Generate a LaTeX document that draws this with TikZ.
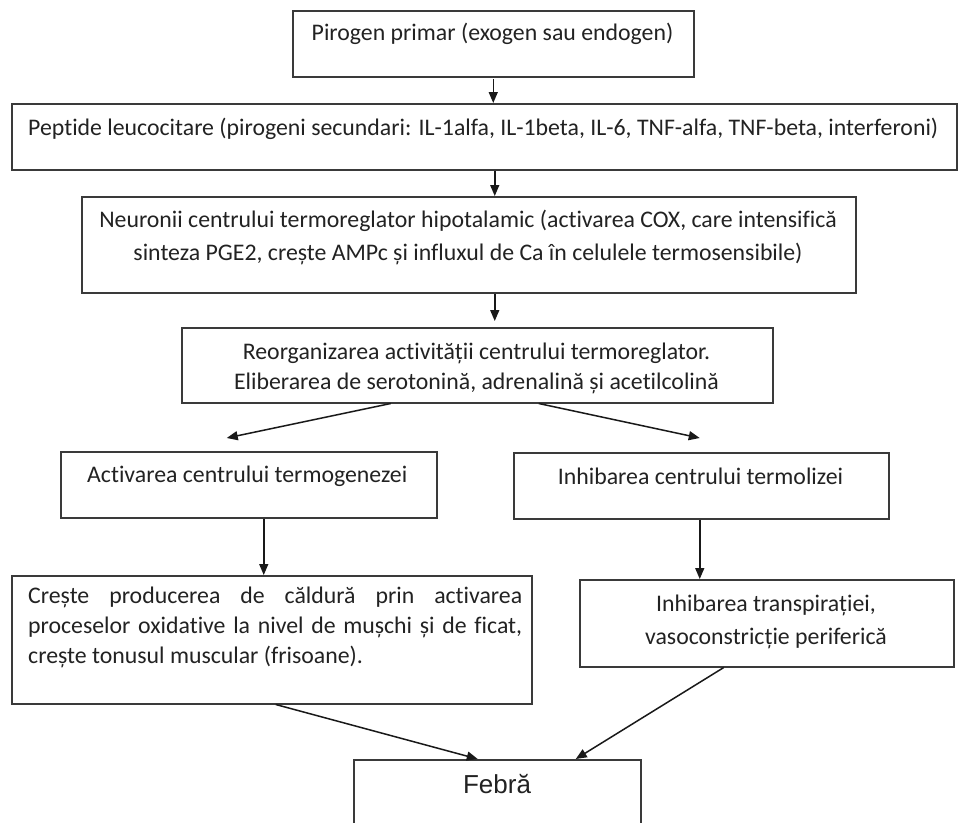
\documentclass[tikz,border=0pt]{standalone}
\usepackage{fontspec}
\setmainfont{Carlito}[RawFeature={-liga}]
\newfontfamily\arialfont{Liberation Sans}
\usetikzlibrary{arrows.meta,calc}
\definecolor{boxline}{HTML}{3A3A3A}
\definecolor{ink}{HTML}{222222}
\begin{document}
\begin{tikzpicture}[x=1pt,y=-1pt,
  box/.style={draw=boxline,line width=1.5pt,rectangle,inner sep=0pt,anchor=north west},
  txt/.style={text=ink,inner sep=0pt,font=\fontsize{23.8}{28}\selectfont},
  arr/.style={draw=black!90,line width=1.5pt,-{Triangle[length=11pt,width=9pt]}}]
\useasboundingbox[fill=white] (0,0) rectangle (958,822);

% boxes (top-left corner, size)
\node[box,minimum width=401pt,minimum height=66pt] (b1) at (292,10) {};
\node[box,minimum width=945pt,minimum height=66pt] (b2) at (11,103) {};
\node[box,minimum width=774pt,minimum height=96pt] (b3) at (81,196) {};
\node[box,minimum width=591pt,minimum height=75pt] (b4) at (181,327) {};
\node[box,minimum width=376pt,minimum height=66pt] (b5) at (60,451) {};
\node[box,minimum width=375pt,minimum height=66pt] (b6) at (513,452) {};
\node[box,minimum width=520pt,minimum height=128pt] (b7) at (11,575) {};
\node[box,minimum width=374pt,minimum height=87pt] (b8) at (579,579) {};
\node[box,minimum width=287pt,minimum height=80pt] (b9) at (353,759) {};

% texts
\node[txt] (t1) at (492.5,34) {Pirogen primar (exogen sau endogen)};
\node[txt,anchor=west] (t2) at (28,129) {Peptide leucocitare (pirogeni secundari: IL-1alfa, IL-1beta, IL-6, TNF-alfa, TNF-beta, interferoni)};
\node[txt,align=center,font=\fontsize{23.8}{33}\selectfont] (t3) at (468,237)
  {Neuronii centrului termoreglator hipotalamic (activarea COX, care intensifică\\
   sinteza PGE2, crește AMPc și influxul de Ca în celulele termosensibile)};
\node[txt,align=center,font=\fontsize{23.8}{30}\selectfont] (t4) at (476.5,368)
  {Reorganizarea activității centrului termoreglator.\\
   Eliberarea de serotonină, adrenalină și acetilcolină};
\node[txt,anchor=west] (t5) at (87,476) {Activarea centrului termogenezei};
\node[txt] (t6) at (700.5,476) {Inhibarea centrului termolizei};
\node[txt,anchor=north west,text width=494pt,align=justify,font=\fontsize{23.8}{30}\selectfont] (t7) at (28,587)
  {Crește producerea de căldură prin activarea\linebreak
   proceselor oxidative la nivel de mușchi și de ficat,\linebreak
   crește tonusul muscular (frisoane).};
\node[txt,align=center,font=\fontsize{23.8}{33}\selectfont] (t8) at (766,622)
  {Inhibarea transpirației,\\ vasoconstricție periferică};
\node[txt,font=\arialfont\fontsize{26}{30}\selectfont] (t9) at (497,784) {Febră};

% connectors
\draw[arr] (b2.north -| b1.south) ++(0,-24) coordinate (s1) -- (b2.north -| b1.south);
\draw[arr] ([xshift=1.5pt]b1.south |- b2.south) -- ([xshift=1.5pt]b1.south |- b3.north);
\draw[arr] ([xshift=1.5pt]b1.south |- b3.south) -- ([xshift=1.5pt,yshift=6pt]b1.south |- b4.north);
\draw[arr] ([xshift=-86.5pt]b4.south) -- ([xshift=-22pt,yshift=13pt]b5.north);
\draw[arr] ([xshift=61.5pt]b4.south) -- ([xshift=-1.5pt,yshift=14pt]b6.north);
\draw[arr] ([xshift=15pt]b5.south) -- ([xshift=15pt]b5.south |- b7.north);
\draw[arr] ([xshift=-1.5pt]b6.south) -- ([xshift=-1.5pt]b6.south |- b8.north);
\draw[arr] ([xshift=4pt]b7.south) -- ([xshift=-19.5pt]b9.north);
\draw[arr] ([xshift=-43pt]b8.south) -- ([xshift=78.5pt]b9.north);
\end{tikzpicture}
\end{document}
